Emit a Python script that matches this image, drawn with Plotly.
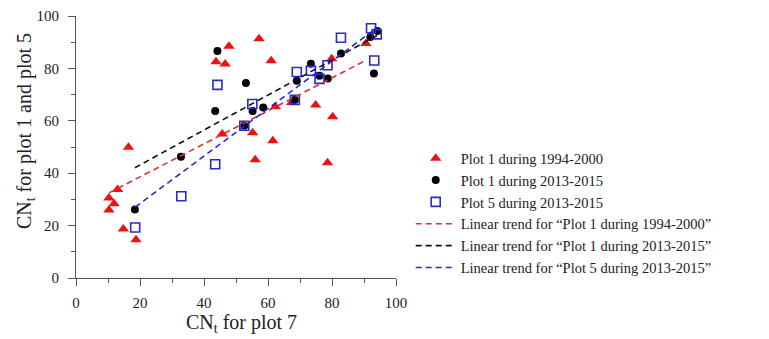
import plotly.graph_objects as go

# ---- data ----
red_x = [10.3, 11.9, 10.3, 13.0, 14.8, 16.4, 18.75, 43.75, 46.6, 47.8, 45.7, 55.2, 56.0,
         57.2, 61.0, 61.5, 62.3, 67.4, 74.9, 78.6, 80.2, 79.9, 90.6]
red_y = [30.5, 28.3, 26.0, 33.8, 18.7, 49.9, 14.6, 82.5, 81.7, 88.5, 55.0, 55.4, 45.1,
         91.3, 82.9, 52.4, 65.4, 67.0, 66.0, 44.0, 61.5, 83.7, 89.5]

black_x = [18.4, 32.8, 43.5, 44.2, 52.6, 53.1, 55.2, 58.5, 68.4, 69.0, 73.4, 76.1, 78.7,
           82.8, 92.0, 94.2, 93.1]
black_y = [26.1, 46.3, 63.7, 86.6, 58.1, 74.4, 63.7, 65.1, 68.0, 75.3, 81.8, 77.2, 76.1,
           85.7, 92.0, 94.3, 78.1]

blue_x = [18.5, 32.9, 43.5, 44.2, 52.6, 55.1, 68.4, 69.0, 73.4, 76.1, 78.6, 82.8, 92.2,
          94.0, 93.2]
blue_y = [19.3, 31.2, 43.4, 73.7, 58.1, 66.4, 68.0, 78.6, 79.1, 76.0, 81.2, 91.7, 95.3,
          93.0, 83.0]

# linear trends (slope, intercept)
red_trend = (0.63, 26.0)
black_trend = (0.667, 29.8)
blue_trend = (0.906, 10.3)

names = ["Plot 1 during 1994-2000", "Plot 1 during 2013-2015", "Plot 5 during 2013-2015"]
trend_names = ["Linear trend for \u201cPlot 1 during 1994-2000\u201d",
               "Linear trend for \u201cPlot 1 during 2013-2015\u201d",
               "Linear trend for \u201cPlot 5 during 2013-2015\u201d"]
x_ticks = [0, 20, 40, 60, 80, 100]
y_ticks = [0, 20, 40, 60, 80, 100]

RED = "#ee1111"
BLUE = "#2a2ac8"
FONT = "Liberation Serif"

fig = go.Figure()
fig.add_trace(go.Scatter(x=red_x, y=red_y, mode="markers", name=names[0],
                         marker=dict(symbol="triangle-up", size=10, color=RED)))
fig.add_trace(go.Scatter(x=black_x, y=black_y, mode="markers", name=names[1],
                         marker=dict(symbol="circle", size=8, color="#000000")))
fig.add_trace(go.Scatter(x=blue_x, y=blue_y, mode="markers", name=names[2],
                         marker=dict(symbol="square-open", size=9, color=BLUE,
                                     line=dict(width=1.6, color=BLUE))))


def trend(xs, coef):
    x0, x1 = min(xs), max(xs)
    return [x0, x1], [coef[0] * x0 + coef[1], coef[0] * x1 + coef[1]]


for xs, coef, col, nm in [(red_x, red_trend, "#d8323a", trend_names[0]),
                          (black_x, black_trend, "#111111", trend_names[1]),
                          (blue_x, blue_trend, "#2a2ad0", trend_names[2])]:
    tx, ty = trend(xs, coef)
    fig.add_trace(go.Scatter(x=tx, y=ty, mode="lines", name=nm,
                             line=dict(color=col, width=1.6, dash="6px,4px")))

axis_common = dict(
    range=[0, 100], showgrid=False, zeroline=False, showline=True, automargin=False,
    linecolor="#555555", linewidth=1, ticks="outside", ticklen=7, tickwidth=1,
    tickcolor="#555555", tickfont=dict(family=FONT, size=15, color="#222222"),
    minor=dict(ticks="outside", ticklen=4, tickwidth=1, tickcolor="#555555", dtick=10),
    mirror=False,
)
fig.update_xaxes(tickvals=x_ticks, ticklabelstandoff=4, **axis_common)
fig.update_yaxes(tickvals=y_ticks, ticklabelstandoff=6, **axis_common)

# page body adds 8px offset; compensate in size/margins
fig.update_layout(
    width=761, height=331,
    margin=dict(l=68, r=373, t=8, b=61, autoexpand=False),
    plot_bgcolor="white", paper_bgcolor="white",
    font=dict(family=FONT, size=15, color="#222222"),
    legend=dict(x=1.046, y=0.518, xanchor="left", yanchor="top",
                font=dict(family=FONT, size=14.5, color="#222222"),
                bgcolor="rgba(0,0,0,0)", itemwidth=40),
    annotations=[
        dict(text="CN<sub>t</sub> for plot 7", x=0.516, y=-0.172, xref="paper", yref="paper",
             xanchor="center", yanchor="middle", showarrow=False,
             font=dict(family=FONT, size=20, color="#222222")),
        dict(text="CN<sub>t</sub> for plot 1 and plot 5", x=-0.16, y=0.56, xref="paper",
             yref="paper", xanchor="center", yanchor="middle", showarrow=False, textangle=-90,
             font=dict(family=FONT, size=20, color="#222222")),
    ],
)

fig.write_html("out.html")
